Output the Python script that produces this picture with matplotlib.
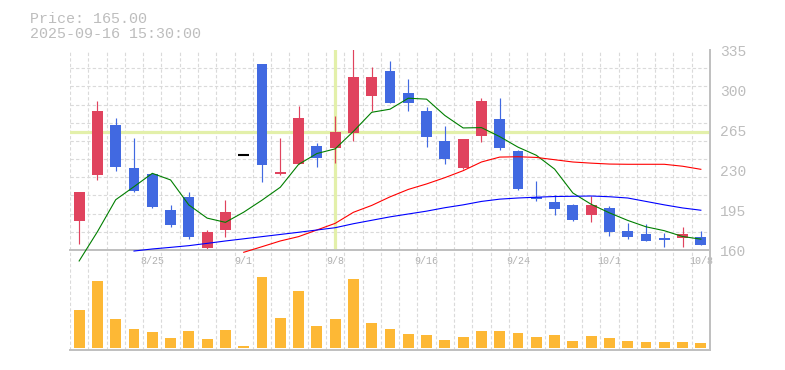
import matplotlib.pyplot as plt
import numpy as np

plt.rcParams["font.family"] = "Liberation Mono"

nan = np.nan
# OHLC, one row per trading day (8/19 .. 10/8)
opens = [185, 226, 269.4, 231.75, 226.5, 195, 206.4, 162, 177.8, 242.8,
         322.75, 226.5, 235.5, 251, 249.5, 262.7, 295, 316.6, 297.6, 281.6,
         255.4, 231.75, 260, 274.6, 246.6, 206.1, 202, 199.4, 190.9, 196.75,
         176.6, 174, 170.2, 170.8, 171.4]
highs = [211, 290.4, 275.5, 258, 227, 199.4, 210.5, 177.5, 203.5, 242.8,
         322.75, 258, 286, 253.3, 277.25, 340, 320.4, 325.4, 309.6, 285.4,
         268.5, 257.1, 292.7, 292.7, 247.5, 220.4, 208.1, 200.25, 207.25, 198.5,
         183.6, 182.75, 174.6, 180.1, 176.6]
lows = [165.5, 221.5, 229.4, 211, 197, 180.4, 169.9, 161.2, 171.7, 242.8,
        219.8, 226, 235.5, 233, 236.4, 255.6, 281.6, 288.9, 281.6, 250.4,
        235.5, 231, 254.8, 247.8, 212.6, 202.9, 190.9, 185.7, 184.8, 172.5,
        169.9, 168.2, 162.3, 162.3, 164.7]
closes = [210.75, 281.6, 232.9, 211.9, 197.9, 182.2, 171.7, 175.75, 193.25, 242.8,
          234.6, 228.25, 275.5, 240.8, 263.25, 311.4, 311.4, 288.9, 288.9, 259.2,
          239.9, 257.1, 290.4, 249.25, 213.4, 204.6, 196.2, 186.25, 199.4, 176,
          171.7, 168.2, 169.1, 174, 164.7]
volume = [114, 201, 87, 57, 48, 30, 51, 27, 54, 6, 213, 90, 171, 66, 87, 207, 75,
          57, 42, 39, 24, 33, 51, 51, 45, 33, 39, 21, 36, 30, 21, 18, 18, 18, 15]

ma_short = [150.4, 176, 204, 215.4, 227.1, 221.3, 199.4, 187.9, 184.2, 193.1,
            203.6, 214.9, 234.9, 244.4, 248.5, 263.8, 280.5, 283.2, 292.8, 292.0,
            277.7, 266.8, 267.1, 259.2, 250.0, 242.9, 230.8, 209.9, 200.0, 192.5,
            185.9, 180.3, 176.9, 171.8, 169.5]
ma_mid = [nan] * 9 + [158, 162.9, 167.9, 171.7, 177.5, 183.3, 193, 199, 206.5, 213,
                      217.8, 223.3, 229.4, 237, 241.3, 241.6, 241, 239, 237, 236,
                      235.2, 235, 235, 235, 233.3, 230.6]
ma_long = [nan] * 3 + [159.1, 160.9, 162.3, 163.8, 165.8, 167.9, 169.8, 171.7, 173.6,
                       175.5, 177.5, 179.5, 183, 186, 189, 191.5, 194, 197, 199.5,
                       202.5, 204.5, 205.5, 206.2, 206.8, 207, 207.25, 206.6, 205.5,
                       202.5, 199.5, 196.8, 194.8]

tick_idx = [4, 9, 14, 19, 24, 29, 34]
tick_labels = ["8/25", "9/1", "9/8", "9/16", "9/24", "10/1", "10/8"]
price_ticks = [160, 195, 230, 265, 300, 335]
cross_idx = 14
cross_price = 263

x = np.arange(len(closes))
up_c, down_c = "#e0435e", "#4169e1"
grid_c = "#dadada"
txt_c = "#bdbdbd"

fig = plt.figure(figsize=(7.85, 3.7), dpi=100)
ax = fig.add_axes([70 / 785, 120 / 370, 640 / 785, 200 / 370])
axv = fig.add_axes([70 / 785, 20 / 370, 640 / 785, 100 / 370])
axv.patch.set_alpha(0)

# crosshair
ax.axhline(cross_price, color="#e3f0aa", lw=2.3, zorder=1)
ax.axvline(cross_idx, color="#e3f0aa", lw=2.3, zorder=1)

# candles
for i in x:
    o, h, l, c = opens[i], highs[i], lows[i], closes[i]
    if c == o:
        ax.hlines(c, i - 0.3, i + 0.3, color="black", lw=1.5, zorder=3)
        continue
    col = up_c if c > o else down_c
    ax.vlines(i, l, h, color=col, lw=0.85, zorder=2)
    ax.bar(i, c - o, bottom=o, width=0.6, color=col, zorder=3)

ax.plot(x, ma_short, color="#007f00", lw=0.8, clip_on=False, zorder=4)
ax.plot(x, ma_mid, color="#ff0000", lw=0.8, clip_on=False, zorder=4)
ax.plot(x, ma_long, color="#0000ff", lw=0.8, clip_on=False, zorder=4)

ax.set_xlim(-0.5, len(x) - 0.5)
ax.set_ylim(160, 335)
ax.set_xticks(tick_idx)
ax.set_xticklabels(tick_labels, fontsize=7.2, color="#b0b0b0")
ax.set_xticks(np.arange(len(x) + 1) - 0.5, minor=True)
ax.yaxis.tick_right()
ax.set_yticks(price_ticks)
ax.set_yticklabels(price_ticks, fontsize=10.5, color=txt_c)
ax.set_yticks(np.linspace(160, 335, 12), minor=True)
ax.tick_params(which="both", length=0)
ax.tick_params(axis="x", pad=4)
ax.tick_params(axis="y", pad=7)
ax.grid(which="minor", color=grid_c, linestyle=(0, (3, 2)), lw=0.8)
ax.grid(which="major", visible=False)
ax.set_axisbelow(True)
for s in ["top", "left"]:
    ax.spines[s].set_visible(False)
for s in ["bottom", "right"]:
    ax.spines[s].set_color("#bfbfbf")
    ax.spines[s].set_linewidth(1.4)

# volume panel
axv.bar(x, volume, width=0.6, color="#fdb835", zorder=3)
axv.set_xlim(-0.5, len(x) - 0.5)
axv.set_ylim(-6, 294)
axv.set_xticks(np.arange(len(x) + 1) - 0.5, minor=True)
axv.set_xticks([])
axv.set_yticks([])
axv.tick_params(which="both", length=0)
axv.grid(which="minor", axis="x", color=grid_c, linestyle=(0, (3, 2)), lw=0.8)
for s in ["top", "left"]:
    axv.spines[s].set_visible(False)
for s in ["bottom", "right"]:
    axv.spines[s].set_color("#bfbfbf")
    axv.spines[s].set_linewidth(1.4)

fig.text(30 / 785, 1 - 22.7 / 370, "Price: 165.00", fontsize=10.8, color=txt_c, va="baseline")
fig.text(30 / 785, 1 - 37.7 / 370, "2025-09-16 15:30:00", fontsize=10.8, color=txt_c, va="baseline")

plt.savefig("out.png", dpi=100)
